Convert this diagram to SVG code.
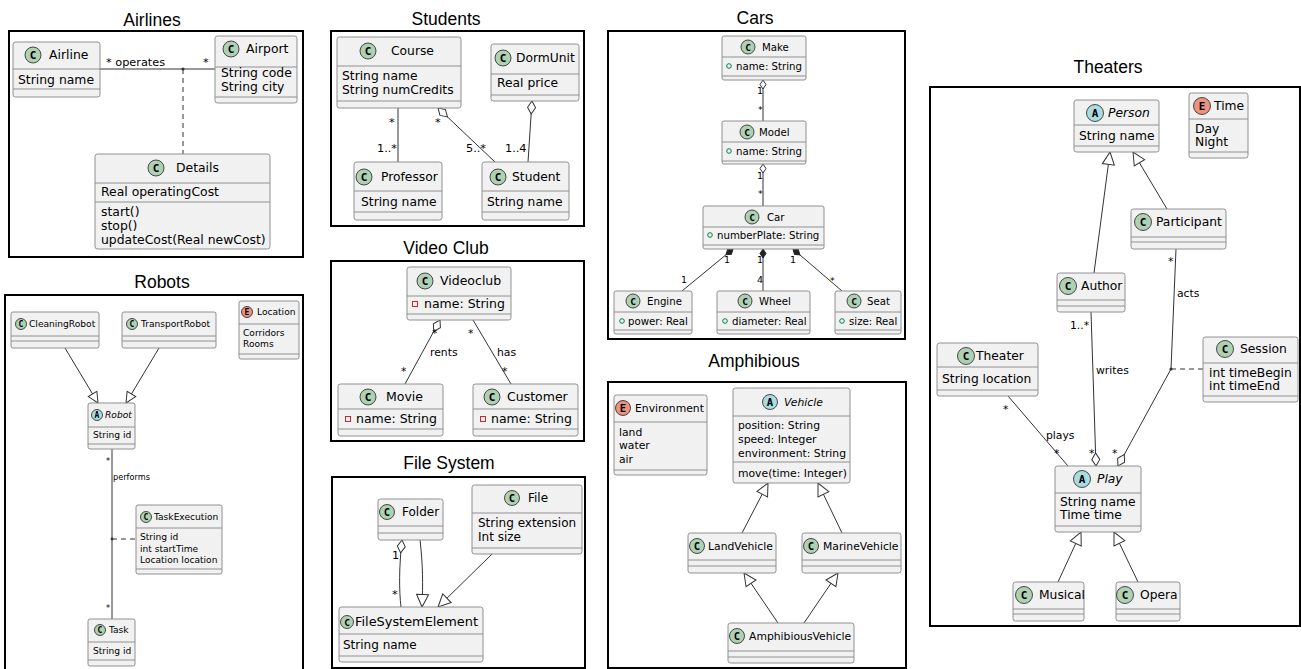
<svg xmlns="http://www.w3.org/2000/svg" width="1301" height="669" viewBox="0 0 1301 669">
<style>
text{font-family:"DejaVu Sans",Verdana,sans-serif;fill:#000}
.ttl{font-family:"Liberation Sans",Arial,sans-serif;font-size:17.5px;text-anchor:middle}
.it{font-style:italic}
.box{fill:#F1F1F1;stroke:#909090;stroke-width:1}
.sep{stroke:#909090;stroke-width:1}
.cc{fill:#ADD1B2;stroke:#222;stroke-width:0.8}
.ca{fill:#A9DCDF;stroke:#222;stroke-width:0.8}
.ce{fill:#EB937F;stroke:#222;stroke-width:0.8}
.ic{font-family:"DejaVu Sans Mono",monospace;font-weight:bold;text-anchor:middle}
.frame{fill:#fff;stroke:#000;stroke-width:2}
.ln{fill:none;stroke:#333;stroke-width:1}
.dsh{stroke-dasharray:5 4}
.dot{fill:#333}
.pv{fill:none;stroke:#C82930;stroke-width:1}
.pb{fill:none;stroke:#038048;stroke-width:1}
.l11{font-size:11.3px}
.l8{font-size:8.2px}
.l10{font-size:10.8px}
.l9{font-size:9.5px}
</style>
<defs>
<marker id="gen" markerUnits="userSpaceOnUse" markerWidth="14" markerHeight="13" refX="13" refY="6.5" orient="auto" overflow="visible"><path d="M0.5,0.5 L13,6.5 L0.5,12.5 Z" fill="#fff" stroke="#333"/></marker>
<marker id="genS" markerUnits="userSpaceOnUse" markerWidth="12" markerHeight="11" refX="11" refY="5.5" orient="auto" overflow="visible"><path d="M0.5,0.5 L11,5.5 L0.5,10.5 Z" fill="#fff" stroke="#333"/></marker>
<marker id="dia" markerUnits="userSpaceOnUse" markerWidth="14" markerHeight="10" refX="0.5" refY="4.5" orient="auto" overflow="visible"><path d="M0.5,4.5 L7,0.5 L13.5,4.5 L7,8.5 Z" fill="#fff" stroke="#333"/></marker>
<marker id="diaS" markerUnits="userSpaceOnUse" markerWidth="10" markerHeight="8" refX="0.5" refY="3.5" orient="auto" overflow="visible"><path d="M0.5,3.5 L5,0.5 L9.5,3.5 L5,6.5 Z" fill="#fff" stroke="#333"/></marker>
<marker id="diaF" markerUnits="userSpaceOnUse" markerWidth="10" markerHeight="8" refX="0.5" refY="3.5" orient="auto" overflow="visible"><path d="M0.5,3.5 L5,0.5 L9.5,3.5 L5,6.5 Z" fill="#222" stroke="#222"/></marker>
</defs>
<rect width="1301" height="669" fill="#fff"/>

<!-- ================= Airlines ================= -->
<g id="panel-airlines" font-size="12.4">
<text class="ttl" x="152" y="26">Airlines</text>
<rect class="frame" x="9" y="31" width="294" height="226"/>
<g id="connectors-airlines">
<line class="ln" x1="100" y1="69" x2="215" y2="69"/>
<line class="ln dsh" x1="183" y1="69" x2="183" y2="154"/>
<circle class="dot" cx="183" cy="69" r="1.6"/>
<text class="l11" x="106" y="65.5">* operates</text>
<text class="l11" x="203" y="65.5">*</text>
</g>
<g id="airline">
<rect class="box" x="13" y="42" width="87" height="55" rx="2.5"/>
<line class="sep" x1="13" y1="69" x2="100" y2="69"/>
<line class="sep" x1="13" y1="89" x2="100" y2="89"/>
<circle class="cc" cx="33" cy="55" r="8"/><text class="ic" x="33" y="59" font-size="11">C</text>
<text x="49" y="59.4">Airline</text>
<text x="18" y="83.5">String name</text>
</g>
<g id="airport">
<rect class="box" x="215" y="36" width="82" height="67" rx="2.5"/>
<line class="sep" x1="215" y1="67" x2="297" y2="67"/>
<line class="sep" x1="215" y1="97" x2="297" y2="97"/>
<circle class="cc" cx="231" cy="49" r="8"/><text class="ic" x="231" y="53" font-size="11">C</text>
<text x="246" y="53.4">Airport</text>
<text x="221" y="76.5">String code</text>
<text x="221" y="90.5">String city</text>
</g>
<g id="details">
<rect class="box" x="95" y="154" width="175" height="95" rx="2.5"/>
<line class="sep" x1="95" y1="183" x2="270" y2="183"/>
<line class="sep" x1="95" y1="202" x2="270" y2="202"/>
<circle class="cc" cx="156" cy="168" r="8"/><text class="ic" x="156" y="172" font-size="11">C</text>
<text x="176" y="172.4">Details</text>
<text x="101" y="196.4">Real operatingCost</text>
<text x="101" y="216.4">start()</text>
<text x="101" y="230.4">stop()</text>
<text x="101" y="243.6">updateCost(Real newCost)</text>
</g>
</g>

<!-- ================= Robots ================= -->
<g id="panel-robots" font-size="9.1">
<text class="ttl" x="162" y="288">Robots</text>
<rect class="frame" x="5" y="295" width="298" height="390"/>
<g id="connectors-robots">
<line class="ln" x1="65" y1="348" x2="98" y2="403" marker-end="url(#genS)"/>
<line class="ln" x1="159" y1="348" x2="126" y2="403" marker-end="url(#genS)"/>
<line class="ln" x1="112" y1="449" x2="112" y2="619"/>
<line class="ln dsh" x1="112" y1="539" x2="136" y2="539"/>
<circle class="dot" cx="112" cy="539" r="1.4"/>
<text class="l8" x="106" y="464">*</text>
<text class="l8" x="113" y="480">performs</text>
<text class="l8" x="106" y="611">*</text>
</g>
<g id="cleaningrobot">
<rect class="box" x="11" y="312" width="88" height="36" rx="2"/>
<line class="sep" x1="11" y1="336" x2="99" y2="336"/>
<line class="sep" x1="11" y1="341" x2="99" y2="341"/>
<circle class="cc" cx="21" cy="324" r="5.5"/><text class="ic" x="21" y="327" font-size="8">C</text>
<text x="29" y="327.3">CleaningRobot</text>
</g>
<g id="transportrobot">
<rect class="box" x="122" y="312" width="94" height="36" rx="2"/>
<line class="sep" x1="122" y1="336" x2="216" y2="336"/>
<line class="sep" x1="122" y1="341" x2="216" y2="341"/>
<circle class="cc" cx="132" cy="324" r="5.5"/><text class="ic" x="132" y="327" font-size="8">C</text>
<text x="141" y="327.3">TransportRobot</text>
</g>
<g id="location">
<rect class="box" x="239" y="301" width="60" height="58" rx="2"/>
<line class="sep" x1="239" y1="324" x2="299" y2="324"/>
<line class="sep" x1="239" y1="354" x2="299" y2="354"/>
<circle class="ce" cx="247" cy="312" r="5.5"/><text class="ic" x="247" y="315" font-size="8">E</text>
<text x="257" y="315.3">Location</text>
<text x="243" y="336.3">Corridors</text>
<text x="243" y="347.3">Rooms</text>
</g>
<g id="robot">
<rect class="box" x="88" y="403" width="47" height="46" rx="2"/>
<line class="sep" x1="88" y1="427" x2="135" y2="427"/>
<line class="sep" x1="88" y1="444" x2="135" y2="444"/>
<circle class="ca" cx="97" cy="415" r="5.5"/><text class="ic" x="97" y="418" font-size="8">A</text>
<text class="it" x="105" y="418.3">Robot</text>
<text x="93" y="438.3">String id</text>
</g>
<g id="taskexecution">
<rect class="box" x="136" y="505" width="86" height="69" rx="2"/>
<line class="sep" x1="136" y1="528" x2="222" y2="528"/>
<line class="sep" x1="136" y1="569" x2="222" y2="569"/>
<circle class="cc" cx="146" cy="517" r="5.5"/><text class="ic" x="146" y="520" font-size="8">C</text>
<text x="154" y="520.3">TaskExecution</text>
<text x="140" y="540.3">String id</text>
<text x="140" y="551.8">int startTime</text>
<text x="140" y="563.3">Location location</text>
</g>
<g id="task">
<rect class="box" x="88" y="619" width="47" height="47" rx="2"/>
<line class="sep" x1="88" y1="642" x2="135" y2="642"/>
<line class="sep" x1="88" y1="660" x2="135" y2="660"/>
<circle class="cc" cx="100" cy="630" r="5.5"/><text class="ic" x="100" y="633" font-size="8">C</text>
<text x="109" y="633.3">Task</text>
<text x="93" y="654.3">String id</text>
</g>
</g>

<!-- ================= Students ================= -->
<g id="panel-students" font-size="12.3">
<text class="ttl" x="446" y="24.5">Students</text>
<rect class="frame" x="331" y="31" width="253" height="195"/>
<g id="connectors-students">
<line class="ln" x1="398" y1="108" x2="398" y2="162"/>
<line class="ln" x1="438" y1="108" x2="495" y2="162" marker-start="url(#dia)"/>
<line class="ln" x1="532" y1="101" x2="528" y2="162" marker-start="url(#dia)"/>
<text class="l11" x="389" y="126" font-size="11">*</text>
<text class="l11" x="377" y="152">1..*</text>
<text class="l11" x="435" y="126">*</text>
<text class="l11" x="466" y="152">5..*</text>
<text class="l11" x="505" y="152">1..4</text>
</g>
<g id="course">
<rect class="box" x="337" y="37" width="124" height="71" rx="2.5"/>
<line class="sep" x1="337" y1="66" x2="461" y2="66"/>
<line class="sep" x1="337" y1="101" x2="461" y2="101"/>
<circle class="cc" cx="368" cy="51" r="8"/><text class="ic" x="368" y="55" font-size="11">C</text>
<text x="391" y="55.4">Course</text>
<text x="342" y="80.4">String name</text>
<text x="342" y="94.4">String numCredits</text>
</g>
<g id="dormunit">
<rect class="box" x="491" y="44" width="88" height="57" rx="2.5"/>
<line class="sep" x1="491" y1="74" x2="579" y2="74"/>
<line class="sep" x1="491" y1="95" x2="579" y2="95"/>
<circle class="cc" cx="503" cy="58" r="8"/><text class="ic" x="503" y="62" font-size="11">C</text>
<text x="516" y="62.4">DormUnit</text>
<text x="497" y="87.4">Real price</text>
</g>
<g id="professor">
<rect class="box" x="354" y="162" width="88" height="58" rx="2.5"/>
<line class="sep" x1="354" y1="191" x2="442" y2="191"/>
<line class="sep" x1="354" y1="212" x2="442" y2="212"/>
<circle class="cc" cx="364" cy="177" r="8"/><text class="ic" x="364" y="181" font-size="11">C</text>
<text x="381" y="181.4">Professor</text>
<text x="361" y="206.4">String name</text>
</g>
<g id="student">
<rect class="box" x="482" y="162" width="87" height="58" rx="2.5"/>
<line class="sep" x1="482" y1="191" x2="569" y2="191"/>
<line class="sep" x1="482" y1="212" x2="569" y2="212"/>
<circle class="cc" cx="498" cy="177" r="8"/><text class="ic" x="498" y="181" font-size="11">C</text>
<text x="512" y="181.4">Student</text>
<text x="487" y="206.4">String name</text>
</g>
</g>

<!-- ================= Video Club ================= -->
<g id="panel-videoclub" font-size="12.5">
<text class="ttl" x="446" y="254">Video Club</text>
<rect class="frame" x="331" y="261" width="253" height="180"/>
<g id="connectors-videoclub">
<line class="ln" x1="440" y1="320" x2="405" y2="384" marker-start="url(#dia)"/>
<line class="ln" x1="473" y1="320" x2="511" y2="384"/>
<text class="l10" x="432" y="337">*</text>
<text class="l10" x="430" y="356">rents</text>
<text class="l10" x="401" y="375">*</text>
<text class="l10" x="468" y="337">*</text>
<text class="l10" x="497" y="356">has</text>
<text class="l10" x="502" y="375">*</text>
</g>
<g id="videoclub">
<rect class="box" x="407" y="267" width="104" height="53" rx="2.5"/>
<line class="sep" x1="407" y1="296" x2="511" y2="296"/>
<line class="sep" x1="407" y1="314" x2="511" y2="314"/>
<circle class="cc" cx="425" cy="281" r="8"/><text class="ic" x="425" y="285" font-size="11">C</text>
<text x="440" y="285.4">Videoclub</text>
<rect class="pv" x="412.5" y="301.5" width="5" height="5"/>
<text x="424" y="308.4">name: String</text>
</g>
<g id="movie">
<rect class="box" x="338" y="384" width="105" height="52" rx="2.5"/>
<line class="sep" x1="338" y1="409" x2="443" y2="409"/>
<line class="sep" x1="338" y1="429" x2="443" y2="429"/>
<circle class="cc" cx="368" cy="397" r="8"/><text class="ic" x="368" y="401" font-size="11">C</text>
<text x="386" y="401.4">Movie</text>
<rect class="pv" x="345.5" y="416.5" width="5" height="5"/>
<text x="356" y="423.4">name: String</text>
</g>
<g id="customer">
<rect class="box" x="473" y="384" width="105" height="52" rx="2.5"/>
<line class="sep" x1="473" y1="409" x2="578" y2="409"/>
<line class="sep" x1="473" y1="429" x2="578" y2="429"/>
<circle class="cc" cx="492" cy="397" r="8"/><text class="ic" x="492" y="401" font-size="11">C</text>
<text x="507" y="401.4">Customer</text>
<rect class="pv" x="480.5" y="416.5" width="5" height="5"/>
<text x="491" y="423.4">name: String</text>
</g>
</g>

<!-- ================= File System ================= -->
<g id="panel-filesystem" font-size="12">
<text class="ttl" x="449" y="469">File System</text>
<rect class="frame" x="332" y="477" width="253" height="191"/>
<g id="connectors-filesystem">
<path class="ln" d="M402,540 C399,568 399,590 401,607" marker-start="url(#dia)"/>
<path class="ln" d="M420,540 C423,565 423,585 422,607" marker-end="url(#gen)"/>
<line class="ln" x1="492" y1="554" x2="438" y2="607" marker-end="url(#gen)"/>
<text class="l11" font-size="11" x="392" y="559">1</text>
<text class="l11" x="392" y="598">*</text>
</g>
<g id="folder">
<rect class="box" x="378" y="499" width="65" height="41" rx="2.5"/>
<line class="sep" x1="378" y1="526" x2="443" y2="526"/>
<line class="sep" x1="378" y1="533" x2="443" y2="533"/>
<circle class="cc" cx="387" cy="512" r="7.5"/><text class="ic" x="387" y="516" font-size="10.5">C</text>
<text x="402" y="516.3">Folder</text>
</g>
<g id="file">
<rect class="box" x="472" y="485" width="110" height="69" rx="2.5"/>
<line class="sep" x1="472" y1="513" x2="582" y2="513"/>
<line class="sep" x1="472" y1="548" x2="582" y2="548"/>
<circle class="cc" cx="512" cy="498" r="7.5"/><text class="ic" x="512" y="502" font-size="10.5">C</text>
<text x="528" y="502.3">File</text>
<text x="478" y="527.3">String extension</text>
<text x="478" y="541.3">Int size</text>
</g>
<g id="filesystemelement">
<rect class="box" x="339" y="607" width="144" height="55" rx="2.5"/>
<line class="sep" x1="339" y1="634" x2="483" y2="634"/>
<line class="sep" x1="339" y1="656" x2="483" y2="656"/>
<circle class="cc" cx="347" cy="622" r="6.5"/><text class="ic" x="347" y="625.5" font-size="9.5">C</text>
<text x="355" y="626.3" font-size="12.9">FileSystemElement</text>
<text x="343" y="649.3">String name</text>
</g>
</g>

<!-- ================= Cars ================= -->
<g id="panel-cars" font-size="10.2">
<text class="ttl" x="755" y="23.5">Cars</text>
<rect class="frame" x="608" y="31" width="297" height="308"/>
<g id="connectors-cars">
<line class="ln" x1="763" y1="80" x2="763" y2="121" marker-start="url(#diaS)"/>
<line class="ln" x1="763" y1="164" x2="763" y2="206" marker-start="url(#diaS)"/>
<line class="ln" x1="733" y1="249" x2="682" y2="291" marker-start="url(#diaF)"/>
<line class="ln" x1="763" y1="249" x2="763" y2="291" marker-start="url(#diaF)"/>
<line class="ln" x1="793" y1="249" x2="842" y2="291" marker-start="url(#diaF)"/>
<text class="l9" x="757" y="94">1</text>
<text class="l9" x="758" y="113">*</text>
<text class="l9" x="757" y="179">1</text>
<text class="l9" x="758" y="197">*</text>
<text class="l9" x="724" y="263">1</text>
<text class="l9" x="681" y="283">1</text>
<text class="l9" x="757" y="263">1</text>
<text class="l9" x="757" y="283">4</text>
<text class="l9" x="790" y="263">1</text>
<text class="l9" x="830" y="284">*</text>
</g>
<g id="make">
<rect class="box" x="722" y="36" width="84" height="44" rx="2"/>
<line class="sep" x1="722" y1="57" x2="806" y2="57"/>
<line class="sep" x1="722" y1="76" x2="806" y2="76"/>
<circle class="cc" cx="748" cy="47" r="7"/><text class="ic" x="748" y="50.5" font-size="9.5">C</text>
<text x="762" y="50.6">Make</text>
<circle class="pb" cx="729" cy="66" r="2.3"/>
<text x="736" y="69.6">name: String</text>
</g>
<g id="model">
<rect class="box" x="722" y="121" width="84" height="43" rx="2"/>
<line class="sep" x1="722" y1="142" x2="806" y2="142"/>
<line class="sep" x1="722" y1="161" x2="806" y2="161"/>
<circle class="cc" cx="747" cy="132" r="7"/><text class="ic" x="747" y="135.5" font-size="9.5">C</text>
<text x="759" y="135.6">Model</text>
<circle class="pb" cx="729" cy="151" r="2.3"/>
<text x="736" y="154.6">name: String</text>
</g>
<g id="car">
<rect class="box" x="703" y="206" width="121" height="43" rx="2"/>
<line class="sep" x1="703" y1="227" x2="824" y2="227"/>
<line class="sep" x1="703" y1="245" x2="824" y2="245"/>
<circle class="cc" cx="752" cy="217" r="7"/><text class="ic" x="752" y="220.5" font-size="9.5">C</text>
<text x="767" y="220.6">Car</text>
<circle class="pb" cx="710" cy="235" r="2.3"/>
<text x="717" y="238.6">numberPlate: String</text>
</g>
<g id="engine">
<rect class="box" x="614" y="291" width="78" height="43" rx="2"/>
<line class="sep" x1="614" y1="312" x2="692" y2="312"/>
<line class="sep" x1="614" y1="330" x2="692" y2="330"/>
<circle class="cc" cx="633" cy="301" r="7"/><text class="ic" x="633" y="304.5" font-size="9.5">C</text>
<text x="647" y="304.6">Engine</text>
<circle class="pb" cx="622" cy="321" r="2.3"/>
<text x="628" y="324.6">power: Real</text>
</g>
<g id="wheel">
<rect class="box" x="717" y="291" width="93" height="43" rx="2"/>
<line class="sep" x1="717" y1="312" x2="810" y2="312"/>
<line class="sep" x1="717" y1="330" x2="810" y2="330"/>
<circle class="cc" cx="745" cy="301" r="7"/><text class="ic" x="745" y="304.5" font-size="9.5">C</text>
<text x="759" y="304.6">Wheel</text>
<circle class="pb" cx="725" cy="321" r="2.3"/>
<text x="732" y="324.6">diameter: Real</text>
</g>
<g id="seat">
<rect class="box" x="835" y="291" width="66" height="43" rx="2"/>
<line class="sep" x1="835" y1="312" x2="901" y2="312"/>
<line class="sep" x1="835" y1="330" x2="901" y2="330"/>
<circle class="cc" cx="854" cy="301" r="7"/><text class="ic" x="854" y="304.5" font-size="9.5">C</text>
<text x="867" y="304.6">Seat</text>
<circle class="pb" cx="842" cy="321" r="2.3"/>
<text x="849" y="324.6">size: Real</text>
</g>
</g>

<!-- ================= Amphibious ================= -->
<g id="panel-amphibious" font-size="10.8">
<text class="ttl" x="754" y="367">Amphibious</text>
<rect class="frame" x="608" y="382" width="298" height="286"/>
<g id="connectors-amphibious">
<line class="ln" x1="742" y1="533" x2="768" y2="483" marker-end="url(#gen)"/>
<line class="ln" x1="842" y1="533" x2="818" y2="483" marker-end="url(#gen)"/>
<line class="ln" x1="778" y1="623" x2="744" y2="573" marker-end="url(#gen)"/>
<line class="ln" x1="804" y1="623" x2="838" y2="573" marker-end="url(#gen)"/>
</g>
<g id="environment">
<rect class="box" x="614" y="395" width="93" height="80" rx="2.5"/>
<line class="sep" x1="614" y1="422" x2="707" y2="422"/>
<line class="sep" x1="614" y1="470" x2="707" y2="470"/>
<circle class="ce" cx="623" cy="408" r="7.5"/><text class="ic" x="623" y="411.8" font-size="10.5">E</text>
<text x="635" y="411.8">Environment</text>
<text x="619" y="435.8">land</text>
<text x="619" y="448.8">water</text>
<text x="619" y="462.8">air</text>
</g>
<g id="vehicle">
<rect class="box" x="733" y="388" width="117" height="95" rx="2.5"/>
<line class="sep" x1="733" y1="416" x2="850" y2="416"/>
<line class="sep" x1="733" y1="462" x2="850" y2="462"/>
<circle class="ca" cx="770" cy="402" r="7.5"/><text class="ic" x="770" y="405.8" font-size="10.5">A</text>
<text class="it" x="784" y="405.8">Vehicle</text>
<text x="738" y="428.8">position: String</text>
<text x="738" y="442.6">speed: Integer</text>
<text x="738" y="456.6">environment: String</text>
<text x="738" y="476.8">move(time: Integer)</text>
</g>
<g id="landvehicle">
<rect class="box" x="688" y="533" width="88" height="40" rx="2.5"/>
<line class="sep" x1="688" y1="560" x2="776" y2="560"/>
<line class="sep" x1="688" y1="566" x2="776" y2="566"/>
<circle class="cc" cx="697" cy="546" r="7.5"/><text class="ic" x="697" y="549.8" font-size="10.5">C</text>
<text x="708" y="549.8">LandVehicle</text>
</g>
<g id="marinevehicle">
<rect class="box" x="802" y="533" width="99" height="40" rx="2.5"/>
<line class="sep" x1="802" y1="560" x2="901" y2="560"/>
<line class="sep" x1="802" y1="566" x2="901" y2="566"/>
<circle class="cc" cx="811" cy="546" r="7.5"/><text class="ic" x="811" y="549.8" font-size="10.5">C</text>
<text x="823" y="549.8">MarineVehicle</text>
</g>
<g id="amphibiousvehicle">
<rect class="box" x="728" y="623" width="126" height="40" rx="2.5"/>
<line class="sep" x1="728" y1="651" x2="854" y2="651"/>
<line class="sep" x1="728" y1="657" x2="854" y2="657"/>
<circle class="cc" cx="737" cy="636" r="7.5"/><text class="ic" x="737" y="639.8" font-size="10.5">C</text>
<text x="749" y="639.8">AmphibiousVehicle</text>
</g>
</g>

<!-- ================= Theaters ================= -->
<g id="panel-theaters" font-size="12.3">
<text class="ttl" x="1108" y="73">Theaters</text>
<rect class="frame" x="930" y="87" width="370" height="539"/>
<g id="connectors-theaters">
<line class="ln" x1="1094" y1="273" x2="1110" y2="152" marker-end="url(#gen)"/>
<line class="ln" x1="1167" y1="209" x2="1133" y2="152" marker-end="url(#gen)"/>
<line class="ln" x1="1096" y1="466" x2="1091" y2="312" marker-start="url(#dia)"/>
<line class="ln" x1="1176" y1="249" x2="1171" y2="369"/>
<line class="ln" x1="1118" y1="466" x2="1171" y2="369" marker-start="url(#dia)"/>
<line class="ln dsh" x1="1171" y1="369" x2="1203" y2="369"/>
<circle class="dot" cx="1171" cy="369" r="1.6"/>
<line class="ln" x1="1008" y1="396" x2="1068" y2="466"/>
<line class="ln" x1="1058" y1="582" x2="1081" y2="532" marker-end="url(#gen)"/>
<line class="ln" x1="1138" y1="582" x2="1114" y2="532" marker-end="url(#gen)"/>
<text class="l10" x="1168" y="265">*</text>
<text class="l10" x="1177" y="297">acts</text>
<text class="l10" x="1070" y="329">1..*</text>
<text class="l10" x="1096" y="374">writes</text>
<text class="l10" x="1003" y="413">*</text>
<text class="l10" x="1046" y="439">plays</text>
<text class="l10" x="1054" y="457">*</text>
<text class="l10" x="1089" y="457">*</text>
<text class="l10" x="1112" y="457">*</text>
</g>
<g id="person">
<rect class="box" x="1074" y="100" width="85" height="52" rx="2.5"/>
<line class="sep" x1="1074" y1="125" x2="1159" y2="125"/>
<line class="sep" x1="1074" y1="146" x2="1159" y2="146"/>
<circle class="ca" cx="1095" cy="113" r="8.5"/><text class="ic" x="1095" y="117" font-size="11">A</text>
<text class="it" x="1108" y="117.4">Person</text>
<text x="1079" y="140.4">String name</text>
</g>
<g id="time">
<rect class="box" x="1189" y="93" width="59" height="65" rx="2.5"/>
<line class="sep" x1="1189" y1="119" x2="1248" y2="119"/>
<line class="sep" x1="1189" y1="152" x2="1248" y2="152"/>
<circle class="ce" cx="1202" cy="106" r="8.5"/><text class="ic" x="1202" y="110" font-size="11">E</text>
<text x="1214" y="110.4">Time</text>
<text x="1195" y="133.4">Day</text>
<text x="1195" y="146.4">Night</text>
</g>
<g id="participant">
<rect class="box" x="1131" y="209" width="95" height="40" rx="2.5"/>
<line class="sep" x1="1131" y1="237" x2="1226" y2="237"/>
<line class="sep" x1="1131" y1="242" x2="1226" y2="242"/>
<circle class="cc" cx="1143" cy="222" r="8.5"/><text class="ic" x="1143" y="226" font-size="11">C</text>
<text x="1156" y="226.4">Participant</text>
</g>
<g id="author">
<rect class="box" x="1057" y="273" width="68" height="39" rx="2.5"/>
<line class="sep" x1="1057" y1="300" x2="1125" y2="300"/>
<line class="sep" x1="1057" y1="306" x2="1125" y2="306"/>
<circle class="cc" cx="1068" cy="286" r="8.5"/><text class="ic" x="1068" y="290" font-size="11">C</text>
<text x="1081" y="290.4">Author</text>
</g>
<g id="theater">
<rect class="box" x="937" y="343" width="101" height="53" rx="2.5"/>
<line class="sep" x1="937" y1="367" x2="1038" y2="367"/>
<line class="sep" x1="937" y1="390" x2="1038" y2="390"/>
<circle class="cc" cx="966" cy="356" r="8.5"/><text class="ic" x="966" y="360" font-size="11">C</text>
<text x="976" y="360.4">Theater</text>
<text x="942" y="383.4">String location</text>
</g>
<g id="session">
<rect class="box" x="1203" y="337" width="95" height="65" rx="2.5"/>
<line class="sep" x1="1203" y1="363" x2="1298" y2="363"/>
<line class="sep" x1="1203" y1="396" x2="1298" y2="396"/>
<circle class="cc" cx="1225" cy="349" r="8.5"/><text class="ic" x="1225" y="353" font-size="11">C</text>
<text x="1240" y="353.4">Session</text>
<text x="1209" y="377.4">int timeBegin</text>
<text x="1209" y="389.6">int timeEnd</text>
</g>
<g id="play">
<rect class="box" x="1055" y="466" width="86" height="66" rx="2.5"/>
<line class="sep" x1="1055" y1="493" x2="1141" y2="493"/>
<line class="sep" x1="1055" y1="526" x2="1141" y2="526"/>
<circle class="ca" cx="1082" cy="479" r="8.5"/><text class="ic" x="1082" y="483" font-size="11">A</text>
<text class="it" x="1097" y="483.4">Play</text>
<text x="1060" y="506.4">String name</text>
<text x="1060" y="519.4">Time time</text>
</g>
<g id="musical">
<rect class="box" x="1013" y="582" width="71" height="39" rx="2.5"/>
<line class="sep" x1="1013" y1="609" x2="1084" y2="609"/>
<line class="sep" x1="1013" y1="614" x2="1084" y2="614"/>
<circle class="cc" cx="1024" cy="595" r="8.5"/><text class="ic" x="1024" y="599" font-size="11">C</text>
<text x="1039" y="599.4">Musical</text>
</g>
<g id="opera">
<rect class="box" x="1116" y="582" width="64" height="39" rx="2.5"/>
<line class="sep" x1="1116" y1="609" x2="1180" y2="609"/>
<line class="sep" x1="1116" y1="614" x2="1180" y2="614"/>
<circle class="cc" cx="1125" cy="595" r="8.5"/><text class="ic" x="1125" y="599" font-size="11">C</text>
<text x="1140" y="599.4">Opera</text>
</g>
</g>
</svg>
